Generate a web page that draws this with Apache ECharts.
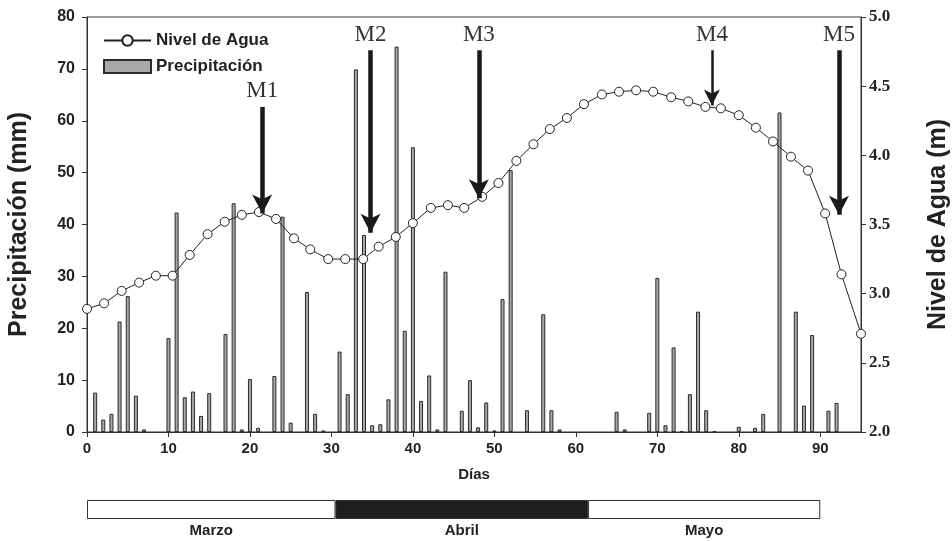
<!DOCTYPE html>
<html>
<head>
<meta charset="utf-8">
<title>Nivel de Agua y Precipitación</title>
<script src="https://cdn.jsdelivr.net/npm/echarts@6/dist/echarts.min.js"></script>
<style>
  html, body { margin: 0; padding: 0; background: #fff; }
  #main { width: 952px; height: 541px; }
</style>
</head>
<body>
<div id="main"></div>
<script>
// nivel de agua (m), cada ~2 días
var levelDays = [0, 2.1, 4.25, 6.4, 8.45, 10.5, 12.6, 14.8, 16.9, 19.0, 21.1, 23.2, 25.4, 27.4, 29.6, 31.7,
    33.9, 35.8, 37.9, 40.0, 42.2, 44.3, 46.3, 48.5, 50.5, 52.7, 54.8, 56.8, 58.9, 61.0, 63.2, 65.3,
    67.4, 69.5, 71.7, 73.8, 75.9, 77.8, 80.0, 82.1, 84.2, 86.4, 88.5, 90.6, 92.6, 95]
var levelValues = [2.89, 2.93, 3.02, 3.08, 3.13, 3.13, 3.28, 3.43, 3.52, 3.57, 3.59, 3.54, 3.40, 3.32, 3.25, 3.25,
    3.25, 3.34, 3.41, 3.51, 3.62, 3.64, 3.62, 3.70, 3.80, 3.96, 4.08, 4.19, 4.27, 4.37, 4.44, 4.46,
    4.47, 4.46, 4.42, 4.39, 4.35, 4.34, 4.29, 4.20, 4.10, 3.99, 3.89, 3.58, 3.14, 2.71]

// precipitación diaria (mm)
var rainDays = [1, 2, 3, 4, 5, 6, 7, 10, 11, 12, 13, 14, 15, 17, 18, 19, 20, 21, 23, 24, 25, 27, 28, 29,
    31, 32, 33, 34, 35, 36, 37, 38, 39, 40, 41, 42, 43, 44, 46, 47, 48, 49, 50, 51, 52, 54, 56, 57, 58,
    65, 66, 69, 70, 71, 72, 73, 74, 75, 76, 77, 80, 82, 83, 85, 87, 88, 89, 91, 92]
var rainValues = [7.6, 2.4, 3.5, 21.3, 26.2, 7.0, 0.5, 18.1, 42.3, 6.7, 7.8, 3.1, 7.5, 18.9, 44.1, 0.5, 10.2, 0.8, 10.8, 41.5, 1.8, 27.0, 3.5, 0.3,
    15.5, 7.3, 69.9, 38.0, 1.3, 1.5, 6.3, 74.3, 19.5, 54.9, 6.0, 10.9, 0.5, 30.9, 4.1, 10.0, 0.9, 5.7, 0.3, 25.6, 50.5, 4.2, 22.7, 4.2, 0.5,
    3.9, 0.5, 3.7, 29.7, 1.3, 16.3, 0.2, 7.3, 23.2, 4.2, 0.2, 1.0, 0.8, 3.5, 61.6, 23.2, 5.1, 18.7, 4.1, 5.6]

// muestreos: día, nivel de inicio y punta de la flecha (m)
var sampleNames = ['M1', 'M2', 'M3', 'M4', 'M5']
var sampleDays = [21.5, 34.8, 48.1, 76.7, 92.3]
var sampleFrom = [4.35, 4.76, 4.76, 4.76, 4.76]
var sampleTo = [3.58, 3.44, 3.69, 4.36, 3.57]

// meses (duración en días sobre el eje)
var months = ['Marzo', 'Abril', 'Mayo']
var monthSpan = [30.5, 31, 28.5]
var monthColors = ['#ffffff', '#1e1e1e', '#ffffff']

var sans = 'Liberation Sans, Arial, sans-serif'
var serif = 'Liberation Serif, Times New Roman, serif'

var myChart = echarts.init(document.getElementById('main'))

var levelData = levelDays.map(function (d, i) { return [d, levelValues[i]] })
var rainData = rainDays.map(function (d, i) { return [d, rainValues[i]] })

var arrows = sampleNames.map(function (n, i) {
    var thin = n === 'M4'
    return [
        { name: n, coord: [sampleDays[i], sampleFrom[i]], symbolSize: thin ? [12, 16] : [15, 19],
          lineStyle: { width: thin ? 2.5 : 4.5 } },
        { coord: [sampleDays[i], sampleTo[i]], symbolSize: thin ? [12, 16] : [15, 19] }
    ]
})

var monthSeries = months.map(function (m, i) {
    return {
        name: m,
        type: 'bar',
        stack: 'mes',
        xAxisIndex: 1,
        yAxisIndex: 2,
        barWidth: 19,
        data: [monthSpan[i]],
        itemStyle: { color: monthColors[i], borderColor: '#333', borderWidth: 1 },
        label: {
            show: true,
            position: 'bottom',
            distance: 4,
            formatter: '{a}',
            fontFamily: sans,
            fontWeight: 'bold',
            fontSize: 15,
            color: '#222'
        },
        silent: true
    }
})

var option = {
    animation: false,
    backgroundColor: '#fff',
    legend: {
        data: [
            { name: 'Nivel de Agua' },
            { name: 'Precipitación', icon: 'rect' }
        ],
        orient: 'vertical',
        left: 98,
        top: 27,
        itemWidth: 47,
        itemHeight: 13,
        itemGap: 9,
        textStyle: { fontFamily: sans, fontWeight: 'bold', fontSize: 17, color: '#222' }
    },
    grid: [
        { left: 87, right: 91, top: 17, bottom: 109, outerBoundsMode: 'none', containLabel: false,
          show: true, borderColor: '#333', borderWidth: 1 },
        { left: 87, right: 91, top: 500, height: 19, outerBoundsMode: 'none', containLabel: false }
    ],
    xAxis: [
        {
            type: 'value',
            min: 0,
            max: 95,
            interval: 10,
            name: 'Días',
            nameLocation: 'middle',
            nameGap: 35,
            nameTextStyle: { fontFamily: sans, fontWeight: 'bold', fontSize: 15, color: '#222' },
            axisLine: { lineStyle: { color: '#333' } },
            axisTick: { length: 5, lineStyle: { color: '#333' } },
            axisLabel: { showMaxLabel: false, margin: 9, fontFamily: sans, fontWeight: 'bold', fontSize: 15, color: '#222' },
            splitLine: { show: false }
        },
        {
            type: 'value', gridIndex: 1, min: 0, max: 95, show: false
        }
    ],
    yAxis: [
        {
            type: 'value',
            min: 0,
            max: 80,
            interval: 10,
            name: 'Precipitación (mm)',
            nameLocation: 'middle',
            nameRotate: 90,
            nameGap: 55,
            nameTextStyle: { fontFamily: sans, fontWeight: 'bold', fontSize: 25, color: '#222' },
            axisLine: { show: true, lineStyle: { color: '#333' } },
            axisTick: { show: true, length: 5, lineStyle: { color: '#333' } },
            axisLabel: { margin: 12, fontFamily: sans, fontWeight: 'bold', fontSize: 16, color: '#222' },
            splitLine: { show: false }
        },
        {
            type: 'value',
            position: 'right',
            min: 2,
            max: 5,
            interval: 0.5,
            name: 'Nivel de Agua (m)',
            nameLocation: 'middle',
            nameRotate: 90,
            nameGap: 65,
            nameTextStyle: { fontFamily: sans, fontWeight: 'bold', fontSize: 25, color: '#222' },
            axisLine: { show: true, lineStyle: { color: '#333' } },
            axisTick: { show: true, length: 5, lineStyle: { color: '#333' } },
            axisLabel: {
                margin: 8, fontFamily: serif, fontWeight: 'bold', fontSize: 17, color: '#222',
                formatter: function (v) { return v.toFixed(1) }
            },
            splitLine: { show: false }
        },
        {
            type: 'category', gridIndex: 1, data: ['mes'], show: false
        }
    ],
    series: [
        {
            name: 'Precipitación',
            type: 'bar',
            data: rainData,
            barWidth: 4,
            itemStyle: { color: '#a8a8a8', borderColor: '#2a2a2a', borderWidth: 1 },
            z: 2
        },
        {
            name: 'Nivel de Agua',
            type: 'line',
            yAxisIndex: 1,
            data: levelData,
            symbol: 'circle',
            symbolSize: 9,
            lineStyle: { color: '#222', width: 1 },
            itemStyle: { color: '#fff', borderColor: '#222', borderWidth: 1 },
            z: 3,
            markLine: {
                silent: true,
                symbol: ['none', 'arrow'],
                lineStyle: { color: '#1a1a1a', type: 'solid' },
                label: {
                    show: true,
                    position: 'start',
                    distance: 4,
                    formatter: '{b}',
                    fontFamily: serif,
                    fontSize: 23,
                    color: '#333'
                },
                data: arrows
            }
        }
    ].concat(monthSeries)
}

myChart.setOption(option)
</script>
</body>
</html>
